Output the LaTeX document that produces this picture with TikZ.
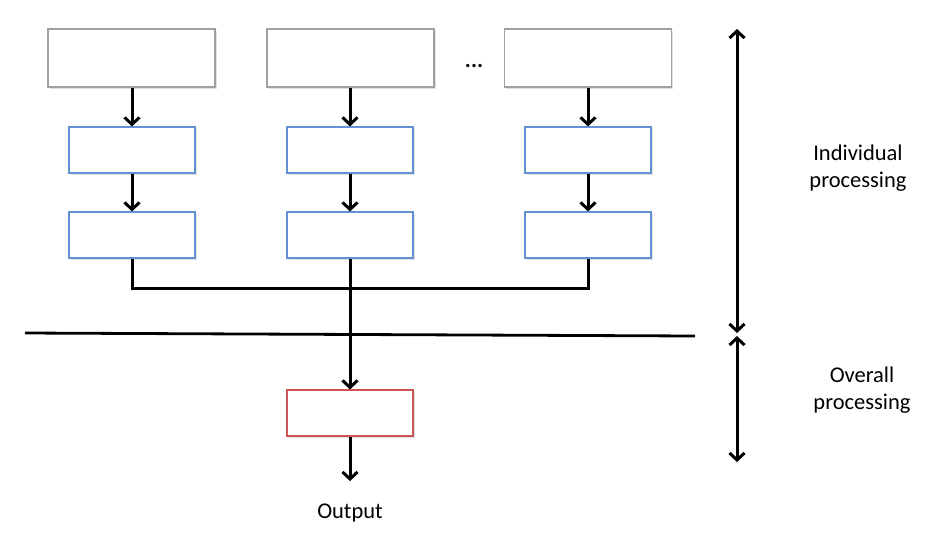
\documentclass[tikz,border=0pt]{standalone}
\usepackage{fontspec}
\setmainfont{Carlito}
\usetikzlibrary{arrows.meta}
\definecolor{boxgray}{RGB}{160,160,160}
\definecolor{boxblue}{RGB}{100,145,210}
\definecolor{boxred}{RGB}{205,85,85}
\tikzset{
  barb/.tip={Straight Barb[length=7pt,width=15pt,line width=3pt]},
  base/.style={draw, fill=white, line width=1.1pt, inner sep=0pt,
    preaction={fill=black!12, transform canvas={xshift=1.5pt,yshift=-1.5pt}}},
  inputbox/.style={base, draw=boxgray, minimum width=167pt, minimum height=58pt},
  stagebox/.style={base, draw=boxblue, minimum width=126pt, minimum height=46pt},
  finalbox/.style={base, draw=boxred, minimum width=126pt, minimum height=46pt},
  flow/.style={line width=3pt, -barb},
  wire/.style={line width=3pt},
  span/.style={line width=3pt, barb-barb},
  lbl/.style={font=\fontsize{22.5}{27}\selectfont, align=center}
}
\begin{document}
\begin{tikzpicture}[x=1pt,y=-1pt]
\useasboundingbox (0,0) rectangle (944,539);

% three input columns
\node[inputbox] (in1) at (131.5,58) {};
\node[inputbox] (in2) at (350.5,58) {};
\node[inputbox] (in3) at (588,58) {};
\node[lbl, font=\fontsize{22.5}{27}\selectfont\bfseries] (dots) at (474,66) {...};

\node[stagebox] (a1) at (132,150) {};
\node[stagebox] (a2) at (350,150) {};
\node[stagebox] (a3) at (588,150) {};

\node[stagebox] (b1) at (132,235) {};
\node[stagebox] (b2) at (350,235) {};
\node[stagebox] (b3) at (588,235) {};

\foreach \i in {1,2,3} {
  \draw[flow] (in\i.south -| a\i.north) -- (a\i.north);
  \draw[flow] (a\i.south) -- (b\i.north);
}

% merging bus
\coordinate (j1) at (132,288);
\coordinate (j3) at (588,288);
\draw[wire, line join=miter] (b1.south) -- (j1) -- (j3) -- (b3.south);

% final stage
\node[finalbox] (c) at (350,413) {};
\node[lbl] (out) at (350,513) {Output};
\coordinate (outtip) at (350,481);
\draw[flow] (b2.south) -- (c.north);
\draw[flow] (c.south) -- (outtip);

% divider between the two phases
\coordinate (d1) at (25,333);
\coordinate (d2) at (695,336);
\draw[line width=2.8pt] (d1) -- (d2);

% phase extents
\coordinate (p1) at (737,29);
\coordinate (p2) at (737,333);
\coordinate (p3) at (737,336);
\coordinate (p4) at (737,462);
\draw[span] (p2) -- (p1);
\draw[span] (p3) -- (p4);

\node[lbl] (ind) at (858,168) {Individual\\processing};
\node[lbl] (ovr) at (862,390) {Overall\\processing};
\end{tikzpicture}
\end{document}
